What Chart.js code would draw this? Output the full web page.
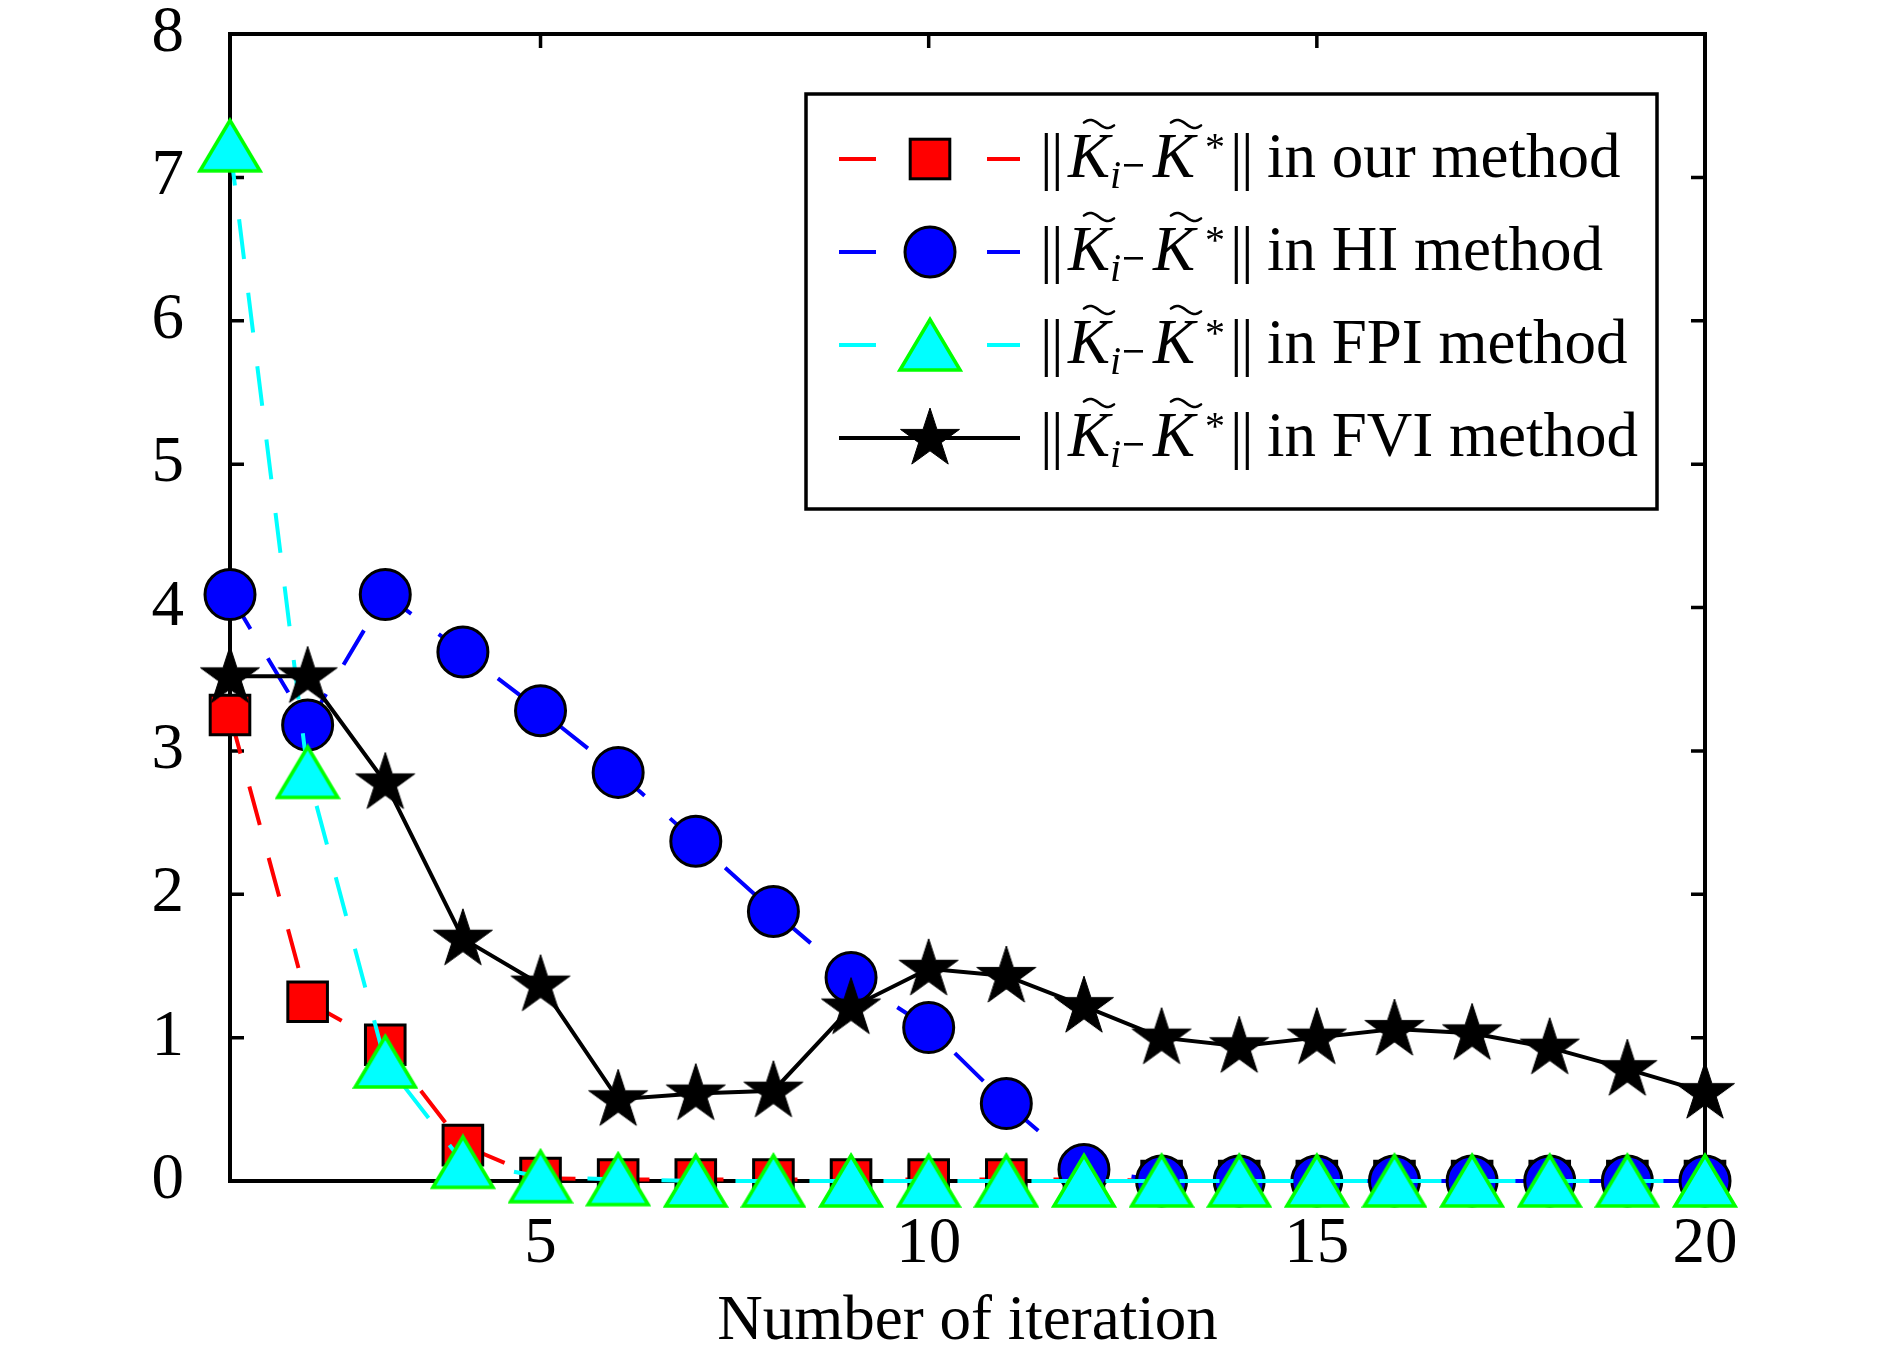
<!DOCTYPE html>
<html>
<head>
<meta charset="utf-8">
<script src="https://cdn.jsdelivr.net/npm/chart.js@4.4.0/dist/chart.umd.min.js"></script>
<style>
  html, body { margin: 0; padding: 0; background: #fff; }
  #wrap { width: 1890px; height: 1349px; position: relative; }
</style>
</head>
<body>
<div id="wrap"><canvas id="mychart"></canvas></div>
<script>
// values
const iterations = [1, 2, 3, 4, 5, 6, 7, 8, 9, 10, 11, 12, 13, 14, 15, 16, 17, 18, 19, 20];
const ourMethod = [3.25, 1.25, 0.95, 0.25, 0.02, 0.01, 0.01, 0.01, 0.01, 0.01, 0.01, 0.01, 0, 0, 0, 0, 0, 0, 0, 0];
const hiMethod = [4.09, 3.18, 4.09, 3.69, 3.28, 2.85, 2.37, 1.88, 1.42, 1.07, 0.54, 0.08, 0, 0, 0, 0, 0, 0, 0, 0];
const fpiMethod = [7.22, 2.85, 0.83, 0.13, 0.03, 0.01, 0, 0, 0, 0, 0, 0, 0, 0, 0, 0, 0, 0, 0, 0];
const fviMethod = [3.52, 3.52, 2.78, 1.69, 1.37, 0.57, 0.61, 0.63, 1.21, 1.48, 1.43, 1.22, 1.0, 0.94, 1.0, 1.06, 1.03, 0.93, 0.78, 0.62];
const xTickValues = [5, 10, 15, 20];
const yTickValues = [0, 1, 2, 3, 4, 5, 6, 7, 8];
const seriesNames = ['in our method', 'in HI method', 'in FPI method', 'in FVI method'];

const FONT = '"Liberation Serif", "Times New Roman", serif';

function toPoints(vals) {
    return iterations.map((x, i) => ({ x: x, y: vals[i] }));
}

// filled marker images (MATLAB style triangle and pentagram)
function makeTriangle() {
    const c = document.createElement('canvas');
    c.width = 66; c.height = 58;
    const g = c.getContext('2d');
    g.beginPath();
    g.moveTo(33, 3.5);
    g.lineTo(63, 54);
    g.lineTo(3, 54);
    g.closePath();
    g.fillStyle = '#00ffff';
    g.fill();
    g.lineWidth = 3.5;
    g.strokeStyle = '#00ff00';
    g.stroke();
    return c;
}

function makeStar() {
    const c = document.createElement('canvas');
    c.width = 68; c.height = 68;
    const g = c.getContext('2d');
    const R = 31, r = R * 0.382, cx = 34, cy = 35;
    g.beginPath();
    for (let k = 0; k < 10; k++) {
        const rad = k % 2 === 0 ? R : r;
        const a = -Math.PI / 2 + k * Math.PI / 5;
        const px = cx + rad * Math.cos(a), py = cy + rad * Math.sin(a);
        if (k === 0) g.moveTo(px, py); else g.lineTo(px, py);
    }
    g.closePath();
    g.fillStyle = '#000';
    g.fill();
    g.lineWidth = 1;
    g.strokeStyle = '#000';
    g.stroke();
    return c;
}

const triImg = makeTriangle();
const starImg = makeStar();

// box with inward ticks on all four sides
const axesBox = {
    id: 'axesBox',
    beforeDatasetsDraw(chart) {
        const ctx = chart.ctx;
        const { left, right, top, bottom } = chart.chartArea;
        const xs = chart.scales.x, ys = chart.scales.y;
        const tl = 14;
        ctx.save();
        ctx.strokeStyle = '#000';
        ctx.lineWidth = 4;
        ctx.strokeRect(left, top, right - left, bottom - top);
        ctx.lineWidth = 3.5;
        ctx.beginPath();
        xs.ticks.forEach(t => {
            const px = xs.getPixelForValue(t.value);
            ctx.moveTo(px, bottom); ctx.lineTo(px, bottom - tl);
            ctx.moveTo(px, top); ctx.lineTo(px, top + tl);
        });
        ys.ticks.forEach(t => {
            const py = ys.getPixelForValue(t.value);
            ctx.moveTo(left, py); ctx.lineTo(left + tl, py);
            ctx.moveTo(right, py); ctx.lineTo(right - tl, py);
        });
        ctx.stroke();
        ctx.restore();
    }
};

function drawTilde(ctx, xa, w, yc) {
    ctx.save();
    ctx.lineWidth = 2.6;
    ctx.strokeStyle = '#000';
    ctx.lineCap = 'round';
    ctx.beginPath();
    for (let k = 0; k <= 20; k++) {
        const t = 0.06 + 0.88 * k / 20;
        const px = xa + w * k / 20;
        const py = yc - 4 * Math.sin(2 * Math.PI * t);
        if (k === 0) ctx.moveTo(px, py); else ctx.lineTo(px, py);
    }
    ctx.stroke();
    ctx.restore();
}

// ||K~_i - K~*|| followed by the method name; x0 is the first bar
function drawNormLabel(ctx, x0, base, tail) {
    const big = '63px ' + FONT, bigIt = 'italic 63px ' + FONT;
    const small = '40px ' + FONT, smallIt = 'italic 40px ' + FONT;
    ctx.textAlign = 'left';
    ctx.textBaseline = 'alphabetic';
    ctx.fillStyle = '#000';
    ctx.font = big;
    ctx.fillText('|', x0 - 6, base);
    ctx.fillText('|', x0 + 5, base);
    ctx.font = bigIt;
    ctx.fillText('K', x0 + 22, base);
    drawTilde(ctx, x0 + 38, 30, base - 53);
    ctx.font = smallIt;
    ctx.fillText('i', x0 + 64, base + 11);
    ctx.fillRect(x0 + 78, base - 13, 19, 2.6);
    ctx.font = bigIt;
    ctx.fillText('K', x0 + 107, base);
    drawTilde(ctx, x0 + 125, 30, base - 53);
    ctx.font = small;
    ctx.fillText('*', x0 + 159, base - 17);
    ctx.font = big;
    ctx.fillText('|', x0 + 184, base);
    ctx.fillText('|', x0 + 195, base);
    ctx.fillText(tail, x0 + 221, base);
}

// legend: line sample + marker + formula text
const mathLegend = {
    id: 'mathLegend',
    afterDraw(chart) {
        const ctx = chart.ctx;
        const bx = 806, by = 94, bw = 851, bh = 415;
        const rows = [159, 252, 345, 438];
        ctx.save();
        ctx.fillStyle = '#fff';
        ctx.fillRect(bx, by, bw, bh);
        ctx.strokeStyle = '#000';
        ctx.lineWidth = 3.5;
        ctx.strokeRect(bx, by, bw, bh);

        chart.data.datasets.forEach((ds, i) => {
            const cy = rows[i];
            const mx = 930;
            ctx.strokeStyle = ds.borderColor;
            ctx.lineWidth = 4;
            ctx.setLineDash([]);
            ctx.beginPath();
            if (ds.borderDash && ds.borderDash.length) {
                ctx.moveTo(839, cy); ctx.lineTo(876, cy);
                ctx.moveTo(987, cy); ctx.lineTo(1020, cy);
            } else {
                ctx.moveTo(839, cy); ctx.lineTo(1020, cy);
            }
            ctx.stroke();

            const ps = ds.pointStyle;
            if (typeof ps === 'object') {
                ctx.drawImage(ps, mx - ps.width / 2, cy - ps.height / 2);
            } else if (ps === 'rect') {
                const h = ds.pointRadius * Math.SQRT1_2;
                ctx.fillStyle = ds.pointBackgroundColor;
                ctx.fillRect(mx - h, cy - h, 2 * h, 2 * h);
                ctx.lineWidth = ds.pointBorderWidth;
                ctx.strokeStyle = ds.pointBorderColor;
                ctx.strokeRect(mx - h, cy - h, 2 * h, 2 * h);
            } else {
                ctx.beginPath();
                ctx.arc(mx, cy, ds.pointRadius, 0, Math.PI * 2);
                ctx.fillStyle = ds.pointBackgroundColor;
                ctx.fill();
                ctx.lineWidth = ds.pointBorderWidth;
                ctx.strokeStyle = ds.pointBorderColor;
                ctx.stroke();
            }
            drawNormLabel(ctx, 1046, cy + 18, seriesNames[i]);
        });
        ctx.restore();
    }
};

const ctx = document.getElementById('mychart');
var chart = new Chart(ctx, {
    type: 'line',
    data: {
        datasets: [{
            label: seriesNames[0],
            data: toPoints(ourMethod),
            borderColor: '#ff0000',
            borderWidth: 4,
            borderDash: [40, 34],
            pointStyle: 'rect',
            pointRadius: 28,
            pointBackgroundColor: '#ff0000',
            pointBorderColor: '#000000',
            pointBorderWidth: 3,
            order: 4,
            clip: false
        }, {
            label: seriesNames[1],
            data: toPoints(hiMethod),
            borderColor: '#0000ff',
            borderWidth: 4,
            borderDash: [40, 34],
            pointStyle: 'circle',
            pointRadius: 25,
            pointBackgroundColor: '#0000ff',
            pointBorderColor: '#000000',
            pointBorderWidth: 3,
            order: 3,
            clip: false
        }, {
            label: seriesNames[2],
            data: toPoints(fpiMethod),
            borderColor: '#00ffff',
            borderWidth: 4,
            borderDash: [40, 34],
            pointStyle: triImg,
            pointRadius: 30,
            order: 2,
            clip: false
        }, {
            label: seriesNames[3],
            data: toPoints(fviMethod),
            borderColor: '#000000',
            borderWidth: 4,
            pointStyle: starImg,
            pointRadius: 30,
            order: 1,
            clip: false
        }]
    },
    options: {
        responsive: true,
        maintainAspectRatio: false,
        animation: false,
        devicePixelRatio: 1,
        layout: {
            padding: { left: 0, right: 185, top: 29, bottom: 0 }
        },
        elements: {
            line: { tension: 0 }
        },
        plugins: {
            legend: { display: false },
            tooltip: { enabled: false }
        },
        scales: {
            x: {
                type: 'linear',
                min: 1,
                max: 20,
                afterBuildTicks: (scale) => {
                    scale.ticks = xTickValues.map(v => ({ value: v }));
                },
                afterFit: (scale) => {
                    scale.height = 168;
                    scale.paddingLeft = 0;
                    scale.paddingRight = 0;
                },
                grid: { display: false },
                border: { display: false },
                ticks: {
                    color: '#000000',
                    padding: 17,
                    maxRotation: 0,
                    autoSkip: false,
                    font: { family: FONT, size: 65 }
                },
                title: {
                    display: true,
                    text: 'Number of iteration',
                    color: '#000000',
                    padding: { top: 0, bottom: 0 },
                    font: { family: FONT, size: 63, lineHeight: 0.85 }
                }
            },
            y: {
                min: 0,
                max: 8,
                afterBuildTicks: (scale) => {
                    scale.ticks = yTickValues.map(v => ({ value: v }));
                },
                afterFit: (scale) => {
                    scale.width = 230;
                    scale.paddingTop = 0;
                    scale.paddingBottom = 0;
                },
                grid: { display: false },
                border: { display: false },
                ticks: {
                    color: '#000000',
                    padding: 38,
                    font: { family: FONT, size: 65 }
                }
            }
        }
    },
    plugins: [axesBox, mathLegend]
});
</script>
</body>
</html>
